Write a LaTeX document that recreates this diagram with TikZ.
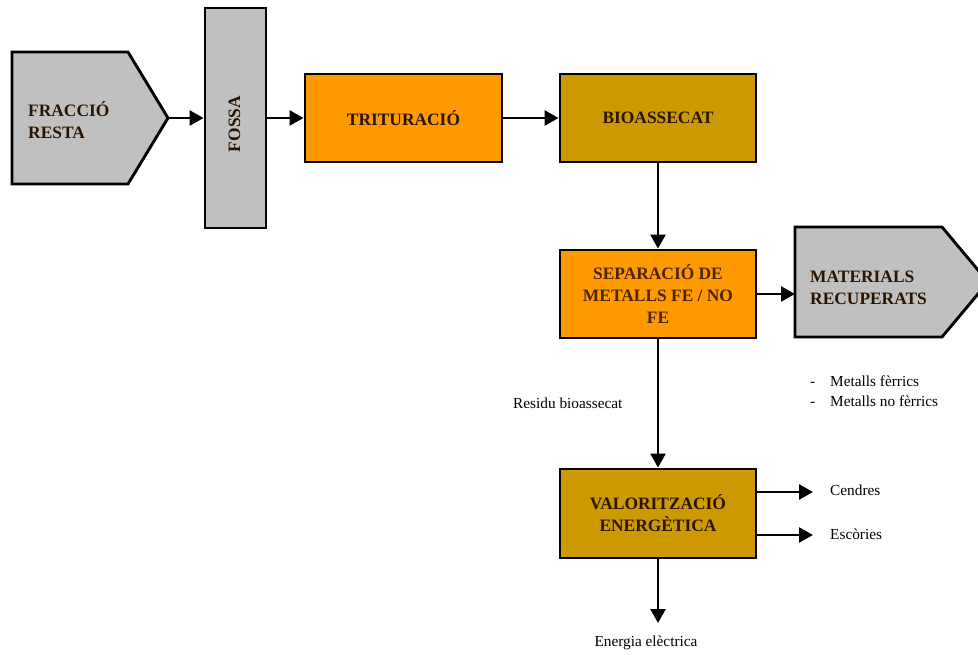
\documentclass[tikz,border=0pt]{standalone}
\usepackage{fontspec}
\setmainfont{Liberation Serif}
\usetikzlibrary{arrows.meta}
\definecolor{grayfill}{HTML}{C0C0C0}
\definecolor{orangefill}{HTML}{FF9900}
\definecolor{goldfill}{HTML}{CC9900}
\definecolor{darkink}{HTML}{2B1500}
\definecolor{browink}{HTML}{4A2500}
\begin{document}
\begin{tikzpicture}[x=1pt,y=-1pt,
  boxfont/.style={font=\fontsize{17.4}{22}\selectfont\bfseries},
  stage/.style={draw=black, line width=2.9pt, inner sep=0pt, align=center, boxfont, text=darkink},
  flow/.style={line width=2.6pt, -{Triangle[length=14pt,width=15pt]}},
  note/.style={font=\fontsize{15.3}{20}\selectfont, inner sep=0pt}
]
\useasboundingbox (0,0) rectangle (978,655);
\clip (0,0) rectangle (978,655);

% input and output tags
\draw[line width=2.9pt, fill=grayfill, line join=miter]
  (12,52) -- (128,52) -- (168,118) -- (128,184) -- (12,184) -- cycle;
\coordinate (frtip) at (168,118);
\node[boxfont, anchor=west, align=left, inner sep=0pt, text=darkink] (frtext) at (28,120.5) {FRACCIÓ\\RESTA};

\draw[line width=2.9pt, fill=grayfill, line join=miter]
  (795,227) -- (942,227) -- (988,282) -- (942,337) -- (795,337) -- cycle;
\coordinate (matin) at (795,294);
\node[boxfont, anchor=west, align=left, inner sep=0pt, text=darkink] (mattext) at (810,287.5) {MATERIALS\\RECUPERATS};

% process stages
\node[stage, fill=grayfill, minimum width=61pt, minimum height=220pt] (fossa) at (235.5,118) {};
\node[boxfont, rotate=90, inner sep=0pt, text=darkink] (fossatext) at (234.5,124) {FOSSA};
\node[stage, fill=orangefill, minimum width=197pt, minimum height=88pt] (trit) at (403.5,118) {TRITURACIÓ};
\node[stage, fill=goldfill, minimum width=196pt, minimum height=88pt] (bio) at (658,118) {BIOASSECAT};
\node[stage, fill=orangefill, minimum width=196pt, minimum height=88pt, text=browink] (sep) at (658,294) {SEPARACIÓ DE\\METALLS FE / NO\\FE};
\node[stage, fill=goldfill, minimum width=196pt, minimum height=89pt] (val) at (658,513.5) {VALORITZACIÓ\\ENERGÈTICA};

% flows
\draw[flow] (frtip) -- (fossa.west |- frtip);
\draw[flow] (fossa.east |- trit.west) -- (trit.west);
\draw[flow] (trit.east) -- (bio.west);
\draw[flow] (bio.south) -- (sep.north);
\draw[flow] (sep.east) -- (matin);
\draw[flow] (sep.south) -- (val.north);

\coordinate (cendout) at (813,492);
\coordinate (escout) at (813,535);
\coordinate (eneout) at (658,623);
\draw[flow] (val.east |- cendout) -- (cendout);
\draw[flow] (val.east |- escout) -- (escout);
\draw[flow] (val.south) -- (eneout);

% labels
\node[note, anchor=west] (residu) at (513,403) {Residu bioassecat};
\node[note, anchor=base west] (d1) at (810,386) {-};
\node[note, anchor=base west] (m1) at (830,386) {Metalls fèrrics};
\node[note, anchor=base west] (d2) at (810,406) {-};
\node[note, anchor=base west] (m2) at (830,406) {Metalls no fèrrics};
\node[note, anchor=west] (cendres) at (830,490) {Cendres};
\node[note, anchor=west] (escories) at (830,534) {Escòries};
\node[note] (energia) at (646,643) {Energia elèctrica};
\end{tikzpicture}
\end{document}
